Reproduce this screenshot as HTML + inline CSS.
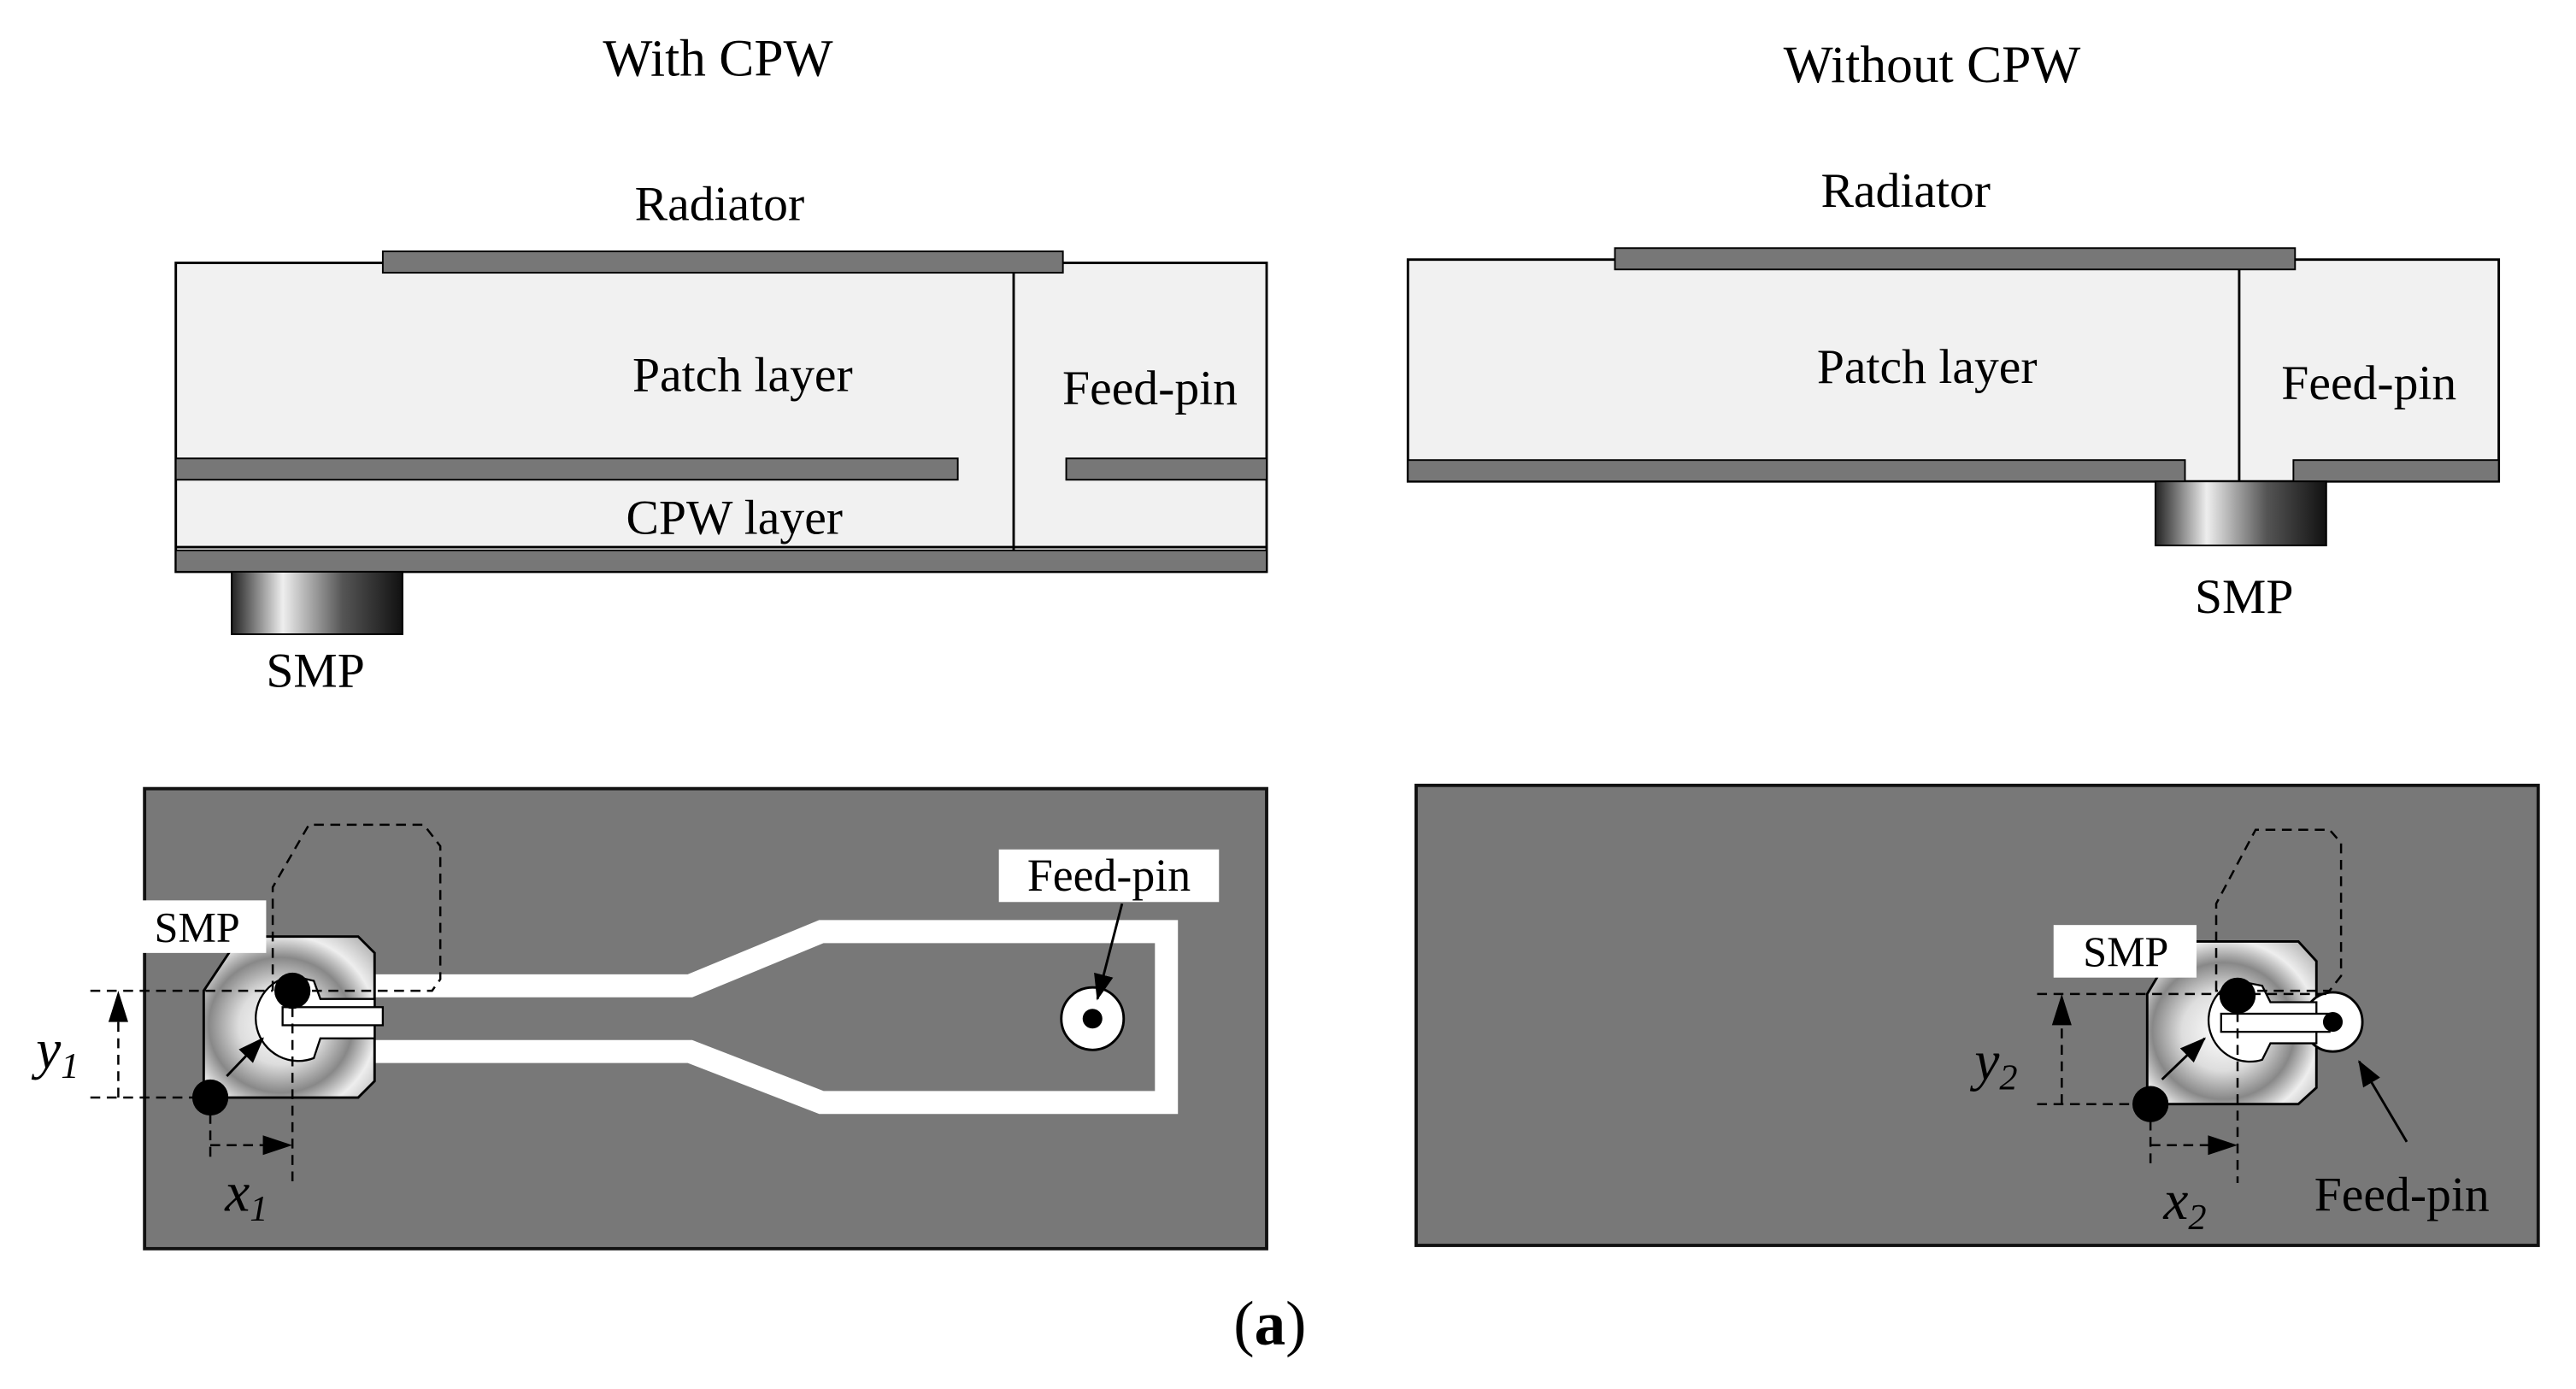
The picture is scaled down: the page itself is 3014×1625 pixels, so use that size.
<!DOCTYPE html>
<html><head><meta charset="utf-8"><style>html,body{margin:0;padding:0;background:#fff}svg{display:block}</style></head><body>
<svg width="3014" height="1625" viewBox="0 0 1568 845.4" xmlns="http://www.w3.org/2000/svg" font-family="Liberation Serif, serif">
<defs>
<linearGradient id="smp2" x1="0" x2="1"><stop offset="0" stop-color="#222"/><stop offset="0.3" stop-color="#eee"/><stop offset="0.65" stop-color="#555"/><stop offset="1" stop-color="#111"/></linearGradient>
<radialGradient id="body" cx="0.45" cy="0.55" r="0.7"><stop offset="0" stop-color="#fff"/><stop offset="0.35" stop-color="#ddd"/><stop offset="0.6" stop-color="#888"/><stop offset="0.8" stop-color="#eee"/><stop offset="1" stop-color="#bbb"/></radialGradient>
<marker id="ah2" markerWidth="16" markerHeight="12" refX="15" refY="6" orient="auto" markerUnits="userSpaceOnUse"><path d="M0,0 L16,6 L0,12z" fill="#000"/></marker>
</defs>
<g font-size="32" text-anchor="middle" fill="#000">
<text x="437" y="46">With CPW</text>
<text x="1176" y="50">Without CPW</text>
</g>
<rect x="107" y="160" width="664" height="188" fill="#f1f1f1" stroke="#000" stroke-width="1.5"/>
<rect x="233" y="153" width="414" height="13" fill="#777" stroke="#000"/>
<rect x="107" y="279" width="476" height="13" fill="#777" stroke="#000"/>
<rect x="649" y="279" width="122" height="13" fill="#777" stroke="#000"/>
<line x1="617" y1="166" x2="617" y2="348" stroke="#000" stroke-width="1.5"/>
<line x1="107" y1="333" x2="771" y2="333" stroke="#000" stroke-width="1.5"/>
<rect x="107" y="335" width="664" height="13" fill="#777" stroke="#000"/>
<rect x="141" y="348" width="104" height="38" fill="url(#smp2)" stroke="#000"/>
<g font-size="30" text-anchor="middle">
<text x="438" y="134">Radiator</text>
<text x="452" y="238">Patch layer</text>
<text x="700" y="246">Feed-pin</text>
<text x="447" y="325">CPW layer</text>
<text x="192" y="418">SMP</text>
</g>
<rect x="857" y="158" width="664" height="135" fill="#f1f1f1" stroke="#000" stroke-width="1.5"/>
<rect x="983" y="151" width="414" height="13" fill="#777" stroke="#000"/>
<rect x="857" y="280" width="473" height="13" fill="#777" stroke="#000"/>
<rect x="1396" y="280" width="125" height="13" fill="#777" stroke="#000"/>
<line x1="1363" y1="164" x2="1363" y2="293" stroke="#000" stroke-width="1.5"/>
<rect x="1312" y="293" width="104" height="39" fill="url(#smp2)" stroke="#000"/>
<g font-size="30" text-anchor="middle">
<text x="1160" y="126">Radiator</text>
<text x="1173" y="233">Patch layer</text>
<text x="1442" y="243">Feed-pin</text>
<text x="1366" y="373">SMP</text>
</g>
<rect x="88" y="480" width="683" height="280" fill="#787878" stroke="#111" stroke-width="2"/>
<polyline points="228,600 420,600 500,567 710,567 710,671 500,671 420,640 228,640" fill="none" stroke="#fff" stroke-width="14" stroke-linejoin="miter"/>
<path d="M124,603 L146,570 L218,570 L228,580 L228,658 L218,668 L124,668 Z" fill="url(#body)" stroke="#000" stroke-width="1.5"/>
<path d="M178,594 A26,26 0 1 0 191,644 L195,632 L228,632 L228,608 L195,608 L191,597 Z" fill="#fff" stroke="#000" stroke-width="1.2"/>
<rect x="172" y="613" width="61" height="11" fill="#fff" stroke="#000" stroke-width="1.2"/>
<path d="M166,603 L166,540 L188,502 L258,502 L268,515 L268,596 L263,603 Z" fill="none" stroke="#000" stroke-width="1.3" stroke-dasharray="6,4"/>
<g stroke="#000" stroke-width="1.3" stroke-dasharray="6,4" fill="none">
<line x1="55" y1="603" x2="166" y2="603"/>
<line x1="55" y1="668" x2="128" y2="668"/>
<line x1="72" y1="668" x2="72" y2="606"/>
<line x1="128" y1="668" x2="128" y2="705"/>
<line x1="178" y1="603" x2="178" y2="720"/>
<line x1="128" y1="697" x2="175" y2="697"/>
</g>
<path d="M66,622 L72,603 L78,622z"/>
<path d="M160,691 L178,697 L160,703z"/>
<line x1="138" y1="655" x2="160" y2="632" stroke="#000" stroke-width="1.5" marker-end="url(#ah2)"/>
<circle cx="178" cy="603" r="11"/>
<circle cx="128" cy="668" r="11"/>
<rect x="85" y="548" width="77" height="32" fill="#fff"/>
<text x="120" y="573" font-size="26" text-anchor="middle">SMP</text>
<text x="35" y="650" font-size="34" font-style="italic" text-anchor="middle">y<tspan font-size="22" dy="6">1</tspan></text>
<text x="150" y="737" font-size="34" font-style="italic" text-anchor="middle">x<tspan font-size="22" dy="6">1</tspan></text>
<circle cx="665" cy="620" r="19" fill="#fff" stroke="#000" stroke-width="1.5"/>
<circle cx="665" cy="620" r="6"/>
<rect x="608" y="517" width="134" height="32" fill="#fff"/>
<text x="675" y="542" font-size="28" text-anchor="middle">Feed-pin</text>
<line x1="683" y1="550" x2="668" y2="608" stroke="#000" stroke-width="1.5" marker-end="url(#ah2)"/>
<rect x="862" y="478" width="683" height="280" fill="#787878" stroke="#111" stroke-width="2"/>
<path d="M1307,605 L1326,573 L1399,573 L1410,585 L1410,662 L1399,672 L1307,672 Z" fill="url(#body)" stroke="#000" stroke-width="1.5"/>
<circle cx="1420" cy="622" r="18" fill="#fff" stroke="#000" stroke-width="1.5"/>
<path d="M1362,597 A25,25 0 1 0 1377,645 L1382,635 L1410,635 L1410,610 L1382,610 L1377,600 Z" fill="#fff" stroke="#000" stroke-width="1.2"/>
<rect x="1352" y="617" width="66" height="11" fill="#fff" stroke="#000" stroke-width="1.2"/>
<circle cx="1420" cy="622" r="6"/>
<path d="M1349,603 L1349,550 L1373,505 L1418,505 L1425,513 L1425,594 L1418,603 Z" fill="none" stroke="#000" stroke-width="1.3" stroke-dasharray="6,4"/>
<g stroke="#000" stroke-width="1.3" stroke-dasharray="6,4" fill="none">
<line x1="1240" y1="605" x2="1420" y2="605"/>
<line x1="1240" y1="672" x2="1309" y2="672"/>
<line x1="1255" y1="672" x2="1255" y2="608"/>
<line x1="1309" y1="672" x2="1309" y2="712"/>
<line x1="1362" y1="606" x2="1362" y2="720"/>
<line x1="1309" y1="697" x2="1358" y2="697"/>
</g>
<path d="M1249,624 L1255,605 L1261,624z"/>
<path d="M1344,691 L1362,697 L1344,703z"/>
<line x1="1316" y1="657" x2="1342" y2="632" stroke="#000" stroke-width="1.5" marker-end="url(#ah2)"/>
<circle cx="1362" cy="606" r="11"/>
<circle cx="1309" cy="672" r="11"/>
<rect x="1250" y="563" width="87" height="32" fill="#fff"/>
<text x="1294" y="588" font-size="26" text-anchor="middle">SMP</text>
<text x="1215" y="657" font-size="34" font-style="italic" text-anchor="middle">y<tspan font-size="22" dy="6">2</tspan></text>
<text x="1330" y="742" font-size="34" font-style="italic" text-anchor="middle">x<tspan font-size="22" dy="6">2</tspan></text>
<line x1="1465" y1="695" x2="1436" y2="646" stroke="#000" stroke-width="1.5" marker-end="url(#ah2)"/>
<text x="1462" y="737" font-size="30" text-anchor="middle">Feed-pin</text>
<text x="773" y="818" font-size="38" text-anchor="middle">(<tspan font-weight="bold">a</tspan>)</text>
</svg>
</body></html>
